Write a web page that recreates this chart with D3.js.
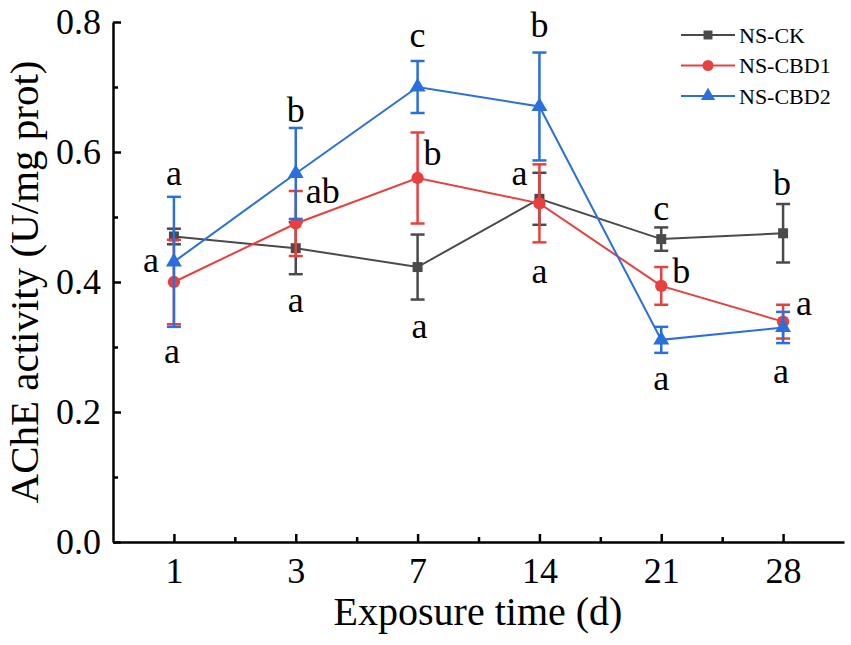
<!DOCTYPE html>
<html>
<head>
<meta charset="utf-8">
<script src="https://cdn.jsdelivr.net/npm/d3@7"></script>
<style>
  body { margin: 0; background: #fff; }
  svg text { font-family: "Liberation Serif", "Times New Roman", serif; fill: #000; }
  .axis path, .axis line { stroke: #000; stroke-width: 2.5; }
</style>
</head>
<body>
<div id="chart-area"></div>
<script>
// days (categories)
var days = ["1", "3", "7", "14", "21", "28"];

// series means and errors (U/mg prot)
var ckMean   = [0.470, 0.452, 0.423, 0.528, 0.466, 0.475];
var ckErr    = [0.012, 0.040, 0.050, 0.040, 0.018, 0.045];
var cbd1Mean = [0.400, 0.490, 0.560, 0.521, 0.394, 0.339];
var cbd1Err  = [0.065, 0.050, 0.070, 0.060, 0.029, 0.026];
var cbd2Mean = [0.431, 0.567, 0.700, 0.670, 0.311, 0.330];
var cbd2Err  = [0.100, 0.070, 0.040, 0.083, 0.020, 0.024];

var seriesNames = ["NS-CK", "NS-CBD1", "NS-CBD2"];
var yTicks = [0, 0.2, 0.4, 0.6, 0.8];

// significance letters: day index, value level, text, horizontal shift
var sigDay   = [0, 0, 0, 1, 1, 1, 2, 2, 2, 3, 3, 3, 4, 4, 4, 5, 5, 5];
var sigLevel = [0.549, 0.415, 0.275, 0.646, 0.522, 0.354, 0.762, 0.580, 0.314,
                0.777, 0.549, 0.398, 0.495, 0.398, 0.234, 0.534, 0.349, 0.245];
var sigText  = ["a", "a", "a", "b", "ab", "a", "c", "b", "a",
                "b", "a", "a", "c", "b", "a", "b", "a", "a"];
var sigShift = [0, -23, -2, 0, 27, 0, 0, 15, 2, 0, -20, 0, 0, 20, 0, -1, 21, -2];

var W = 851, H = 645;
var colors = ["#4a4a4a", "#e8403f", "#2b6fdc"];
var shapes = [d3.symbolSquare, d3.symbolCircle, d3.symbolTriangle];
var sizes = [100, 120, 110];

var series = [
  { name: seriesNames[0], mean: ckMean, err: ckErr },
  { name: seriesNames[1], mean: cbd1Mean, err: cbd1Err },
  { name: seriesNames[2], mean: cbd2Mean, err: cbd2Err }
];

var svg = d3.select("#chart-area")
  .append("svg")
    .attr("width", W)
    .attr("height", H);

var x = d3.scaleLinear()
    .domain([-0.5, days.length - 0.5])
    .range([113, 844]);

var y = d3.scaleLinear()
    .domain([0, 0.8])
    .range([542, 22]);

// minor ticks
var xMinor = d3.range(0.5, days.length - 0.5, 1);
var yMinor = [0.1, 0.3, 0.5, 0.7];

svg.append("g")
    .attr("class", "axis")
    .attr("transform", "translate(0," + y(0) + ")")
    .call(d3.axisBottom(x).tickValues(xMinor).tickSize(-5).tickSizeOuter(0).tickFormat(""))
    .select(".domain").remove();

svg.append("g")
    .attr("class", "axis")
    .attr("transform", "translate(" + x(-0.5) + ",0)")
    .call(d3.axisLeft(y).tickValues(yMinor).tickSize(-5).tickSizeOuter(0).tickFormat(""))
    .select(".domain").remove();

var xAxis = svg.append("g")
    .attr("class", "axis")
    .attr("transform", "translate(0," + y(0) + ")")
    .call(d3.axisBottom(x)
      .tickValues(d3.range(days.length))
      .tickFormat((i) => days[i])
      .tickSizeInner(-8)
      .tickSizeOuter(0)
      .tickPadding(15));
xAxis.selectAll("text").attr("font-size", "36px");

var yAxis = svg.append("g")
    .attr("class", "axis")
    .attr("transform", "translate(" + x(-0.5) + ",0)")
    .call(d3.axisLeft(y)
      .tickValues(yTicks)
      .tickFormat(d3.format(".1f"))
      .tickSizeInner(-8)
      .tickSizeOuter(0)
      .tickPadding(12));
yAxis.selectAll("text").attr("font-size", "36px");

// axis titles
svg.append("text")
    .attr("x", 478)
    .attr("y", 625)
    .attr("font-size", "40px")
    .attr("text-anchor", "middle")
    .text("Exposure time (d)");

svg.append("text")
    .attr("transform", "translate(38,282) rotate(-90)")
    .attr("font-size", "41px")
    .attr("text-anchor", "middle")
    .text("AChE activity (U/mg prot)");

var line = d3.line()
    .x((d, i) => x(i))
    .y((d) => y(d));

series.forEach((s, k) => {
  var g = svg.append("g");
  var c = colors[k];

  g.append("path")
      .datum(s.mean)
      .attr("fill", "none")
      .attr("stroke", c)
      .attr("stroke-width", 2)
      .attr("d", line);

  var eb = g.selectAll(".eb").data(s.mean).enter().append("g");
  eb.append("line")
      .attr("x1", (d, i) => x(i)).attr("x2", (d, i) => x(i))
      .attr("y1", (d, i) => y(d - s.err[i]))
      .attr("y2", (d, i) => y(d + s.err[i]))
      .attr("stroke", c).attr("stroke-width", 2.5);
  eb.append("line")
      .attr("x1", (d, i) => x(i) - 7).attr("x2", (d, i) => x(i) + 7)
      .attr("y1", (d, i) => y(d + s.err[i]))
      .attr("y2", (d, i) => y(d + s.err[i]))
      .attr("stroke", c).attr("stroke-width", 2.5);
  eb.append("line")
      .attr("x1", (d, i) => x(i) - 7).attr("x2", (d, i) => x(i) + 7)
      .attr("y1", (d, i) => y(d - s.err[i]))
      .attr("y2", (d, i) => y(d - s.err[i]))
      .attr("stroke", c).attr("stroke-width", 2.5);

  g.selectAll(".pt").data(s.mean).enter()
    .append("path")
      .attr("transform", (d, i) => "translate(" + x(i) + "," + y(d) + ")")
      .attr("d", d3.symbol().type(shapes[k]).size(sizes[k]))
      .attr("fill", c);
});

// significance letters
svg.selectAll(".sig").data(sigText).enter()
  .append("text")
    .attr("x", (d, i) => x(sigDay[i]) + sigShift[i])
    .attr("y", (d, i) => y(sigLevel[i]))
    .attr("font-size", "36px")
    .attr("text-anchor", "middle")
    .text((d) => d);

// legend
var legend = svg.append("g").attr("transform", "translate(681,35)");
series.forEach((s, k) => {
  var row = legend.append("g").attr("transform", "translate(0," + (k * 30.5) + ")");
  row.append("line")
      .attr("x1", 0).attr("x2", 54)
      .attr("stroke", colors[k]).attr("stroke-width", 2);
  row.append("path")
      .attr("transform", "translate(27,0)")
      .attr("d", d3.symbol().type(shapes[k]).size(sizes[k] * 0.8))
      .attr("fill", colors[k]);
  row.append("text")
      .attr("x", 58)
      .attr("dy", "0.35em")
      .attr("font-size", "22px")
      .text(s.name);
});
</script>
</body>
</html>
